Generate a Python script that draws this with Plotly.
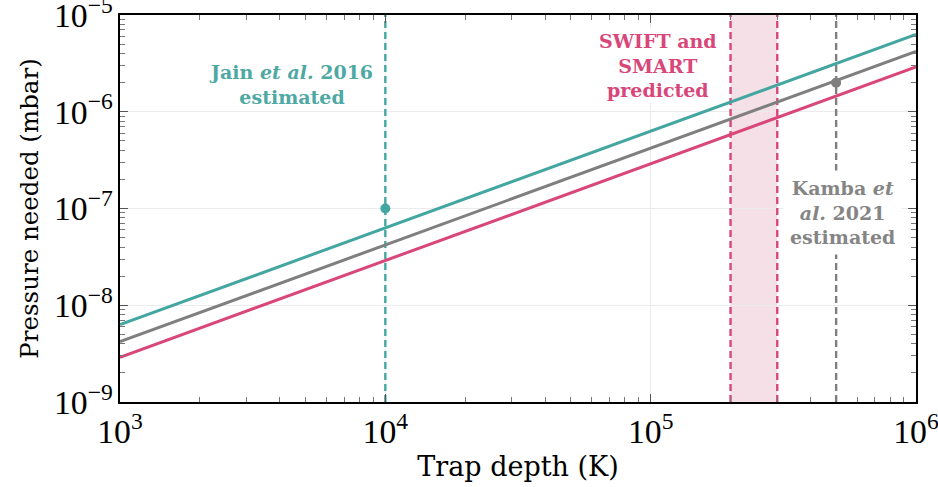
import math
import plotly.graph_objects as go

# Trap depth range (K) and required pressure (mbar) for three scenarios
trap_depth = [1e3, 1e6]
pressure_teal = [6.3e-9, 6.3e-6]
pressure_gray = [4.2e-9, 4.2e-6]
pressure_pink = [2.9e-9, 2.9e-6]

# Reference experiments
jain_depth = 1e4
jain_pressure = 1e-7
kamba_depth = 5e5
kamba_pressure = 2e-6
swift_band = [2e5, 3e5]

x_range = [1e3, 1e6]
y_range = [1e-9, 1e-5]

TEAL = "#44a6a1"
GRAY = "#7f7f7f"
PINK = "#d9467a"
BAND = "#f6e0e8"
LABEL_FONT = "DejaVu Serif"
TICK_FONT = "Liberation Serif"

fig = go.Figure()

# Shaded predicted band
fig.add_shape(type="rect", xref="x", yref="y",
              x0=swift_band[0], x1=swift_band[1], y0=y_range[0], y1=y_range[1],
              fillcolor=BAND, line_width=0, layer="below")


# Vertical dashed markers
def vline(x, color):
    fig.add_trace(go.Scatter(x=[x, x], y=y_range, mode="lines",
                             line=dict(color=color, width=2.4, dash="7px,4px"),
                             showlegend=False, hoverinfo="skip"))


vline(jain_depth, TEAL)
vline(swift_band[0], PINK)
vline(swift_band[1], PINK)
vline(kamba_depth, GRAY)

# Pressure curves
for ys, c in [(pressure_teal, TEAL), (pressure_gray, GRAY), (pressure_pink, PINK)]:
    fig.add_trace(go.Scatter(x=trap_depth, y=ys, mode="lines",
                             line=dict(color=c, width=3), showlegend=False))

# Experimental points
fig.add_trace(go.Scatter(x=[jain_depth], y=[jain_pressure], mode="markers",
                         marker=dict(color=TEAL, size=10), showlegend=False))
fig.add_trace(go.Scatter(x=[kamba_depth], y=[kamba_pressure], mode="markers",
                         marker=dict(color=GRAY, size=10), showlegend=False))


def label(x, y, text, color, pad):
    fig.add_annotation(x=math.log10(x), y=math.log10(y), xref="x", yref="y",
                       text=text, showarrow=False,
                       font=dict(family=LABEL_FONT, size=19, color=color),
                       bgcolor="white", borderpad=pad)


label(4.4e3, 1.9e-6, "<b>Jain <i>et al.</i> 2016<br>estimated</b>", "#4ea8a3", 1)
label(1.07e5, 3.0e-6, "<b>SWIFT and<br>SMART<br>predicted</b>", PINK, 1)
label(5.3e5, 9.0e-8, "<b>Kamba <i>et</i><br><i>al.</i> 2021<br>estimated</b>", "#858585", 6)

axis_common = dict(
    type="log", showline=True, linecolor="black", linewidth=1.5,
    mirror="allticks", ticks="inside", ticklen=8, tickcolor="#555555",
    showgrid=True, gridcolor="#ebebeb", gridwidth=1,
    dtick=1, exponentformat="power", zeroline=False, automargin=False,
    ticklabeloverflow="allow",
    tickfont=dict(family=TICK_FONT, size=27, color="black"),
    minor=dict(ticks="inside", ticklen=5, tickcolor="#777777", dtick="D1", showgrid=False),
)

fig.update_xaxes(axis_common, range=[3, 6],
                 title=dict(text="Trap depth (K)", font=dict(family=LABEL_FONT, size=27, color="black"),
                            standoff=8))
fig.update_yaxes(axis_common, range=[-9, -5],
                 title=dict(text="Pressure needed (mbar)", font=dict(family=LABEL_FONT, size=24.5, color="black"),
                            standoff=8))

fig.update_layout(width=938, height=487, margin=dict(l=120, r=22, t=15, b=85),
                  paper_bgcolor="white", plot_bgcolor="white")

fig.write_html("out.html")
